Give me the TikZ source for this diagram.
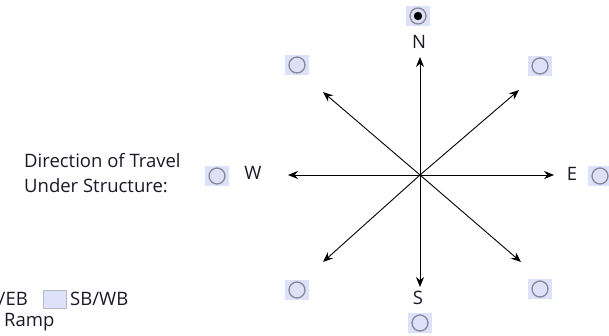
\documentclass[tikz,border=0pt]{standalone}
\usepackage{fontspec}
\setmainfont{Open Sans}
\usetikzlibrary{arrows.meta}
\definecolor{radiofill}{RGB}{222,225,250}
\definecolor{radioedge}{RGB}{135,135,150}
\definecolor{txt}{RGB}{25,25,40}
\begin{document}
\begin{tikzpicture}[x=1pt,y=-1pt,
  radio/.style={minimum width=24pt,minimum height=20pt,inner sep=0pt,fill=radiofill,draw=none,
    path picture={\draw[radioedge,line width=1.3pt] (path picture bounding box.center) circle (8pt);}},
  radiosel/.style={radio,path picture={\draw[radioedge,line width=1.3pt] (path picture bounding box.center) circle (8pt);
    \fill[black] (path picture bounding box.center) circle (4.2pt);}},
  chk/.style={minimum width=23pt,minimum height=18pt,inner sep=0pt,fill=radiofill,draw=radioedge!60,line width=1pt},
  lbl/.style={font=\fontsize{18.5pt}{22pt}\selectfont,text=txt,inner sep=0pt},
  dirarrow/.style={-{Stealth[length=10pt,width=8pt]},line width=0.9pt,black}]
\useasboundingbox (0,0) rectangle (609,335);
\coordinate (c) at (420,175);
\coordinate (tn) at (420,57);
\coordinate (ts) at (420,287);
\coordinate (tw) at (288,175);
\coordinate (te) at (554,175);
\coordinate (tnw) at (323,92);
\coordinate (tne) at (519,90);
\coordinate (tsw) at (323,262);
\coordinate (tse) at (521,262);
\foreach \t in {tn,ts,tw,te,tnw,tne,tsw,tse} \draw[dirarrow] (c) -- (\t);
\node[lbl] (N) at (419,42) {N};
\node[lbl] (S) at (418,298) {S};
\node[lbl] (W) at (253,173) {W};
\node[lbl] (E) at (572,174) {E};
\node[radiosel] (rn) at (418,16) {};
\node[radio] (rs) at (420,323) {};
\node[radio] (rw) at (217,176) {};
\node[radio] (re) at (600,176) {};
\node[radio] (rnw) at (297,65) {};
\node[radio] (rne) at (540,66) {};
\node[radio] (rsw) at (297,290) {};
\node[radio] (rse) at (540,289) {};
\node[lbl,align=left,anchor=north west,font=\fontsize{18.5pt}{25pt}\selectfont] (q) at (24,153) {Direction of Travel\\Under Structure:};
\node[lbl,anchor=east] (nbeb) at (28,299) {/EB};
\node[chk] (cb) at (55,299) {};
\node[lbl,anchor=west] (sbwb) at (70,299) {SB/WB};
\node[lbl,anchor=west] (ramp) at (4,322) {Ramp};
\end{tikzpicture}
\end{document}
